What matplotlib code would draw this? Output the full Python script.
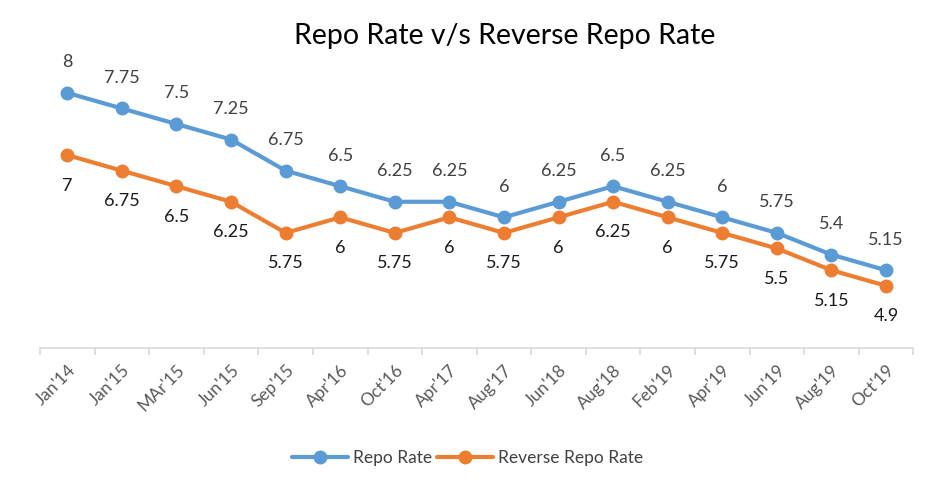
import matplotlib.pyplot as plt

months = ["Jan'14", "Jan'15", "MAr'15", "Jun'15", "Sep'15", "Apr'16", "Oct'16", "Apr'17",
          "Aug'17", "Jun'18", "Aug'18", "Feb'19", "Apr'19", "Jun'19", "Aug'19", "Oct'19"]
repo_rate = [8, 7.75, 7.5, 7.25, 6.75, 6.5, 6.25, 6.25, 6, 6.25, 6.5, 6.25, 6, 5.75, 5.4, 5.15]
reverse_repo = [7, 6.75, 6.5, 6.25, 5.75, 6, 5.75, 6, 5.75, 6, 6.25, 6, 5.75, 5.5, 5.15, 4.9]

plt.rcParams["font.family"] = ["Lato", "DejaVu Sans"]

BLUE = "#5B9BD5"
ORANGE = "#ED7D31"

fig = plt.figure(figsize=(9.35, 4.83), dpi=100)
ax = fig.add_axes([0.0428, 0.2795, 0.934, 0.657])
x = list(range(len(months)))

ax.plot(x, repo_rate, color=BLUE, lw=3, marker="o", ms=9, label="Repo Rate",
        solid_capstyle="round")
ax.plot(x, reverse_repo, color=ORANGE, lw=3, marker="o", ms=9, label="Reverse Repo Rate",
        solid_capstyle="round")

for xi, v in zip(x, repo_rate):
    ax.annotate(f"{v:g}", (xi, v), xytext=(0, 22), textcoords="offset points",
                ha="center", va="center", fontsize=13, color="#404040")
for xi, v in zip(x, reverse_repo):
    ax.annotate(f"{v:g}", (xi, v), xytext=(0, -22), textcoords="offset points",
                ha="center", va="center", fontsize=13, color="#1a1a1a")

ax.set_xlim(-0.5, len(months) - 0.5)
ax.set_ylim(3.9, 9)
ax.set_yticks([])
for s in ["top", "right", "left"]:
    ax.spines[s].set_visible(False)
ax.spines["bottom"].set_color("#D9D9D9")
ax.spines["bottom"].set_linewidth(1.2)

ax.set_xticks([i - 0.5 for i in range(len(months) + 1)])
ax.set_xticklabels([])
ax.tick_params(axis="x", length=5, color="#D9D9D9", width=1.2)
ax.set_xticks(x, minor=True)
ax.set_xticklabels(months, minor=True, rotation=45, ha="right", rotation_mode="anchor",
                   fontsize=12.5, color="#595959")
ax.tick_params(axis="x", which="minor", length=0, pad=10)

fig.text(0.54, 0.925, "Repo Rate v/s Reverse Repo Rate", ha="center", va="center",
         fontsize=20.5, color="#000000")

fig.legend(loc="center", bbox_to_anchor=(0.5, 0.052), ncol=2, frameon=False,
           fontsize=12.5, handlelength=3.2, columnspacing=0.3, handletextpad=0.3,
           labelcolor="#404040")

fig.savefig("out.png", dpi=100)
